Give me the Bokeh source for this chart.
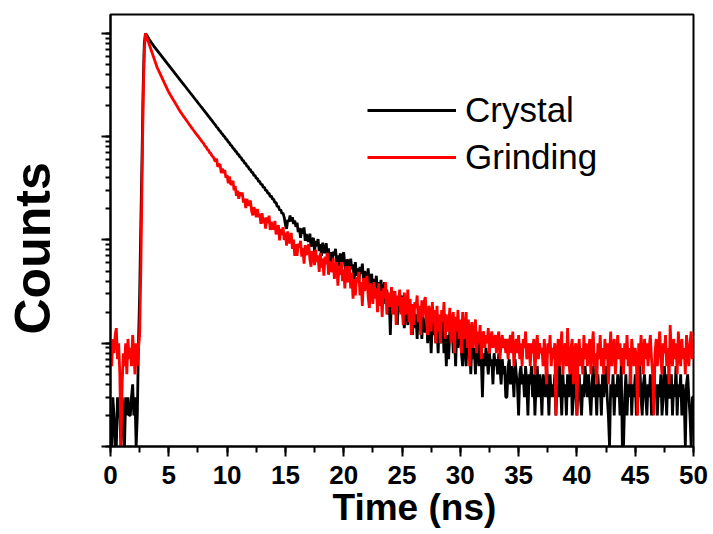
from bokeh.plotting import figure
from bokeh.models import (Range1d, SingleIntervalTicker, LogTicker, CustomJSTickFormatter,
                          Title, Legend, LegendItem, LogAxis)
from bokeh.embed import file_html
from bokeh.resources import INLINE

# ---------------- data ----------------
time_ns = [round(0.1 * i, 1) for i in range(501)]   # 0.0 ... 50.0 ns channel grid

crystal_counts = [
    2, 1, 3, 2, 1, 1, 3, 2, 2, 1,
    3, 2, 1, 3, 2, 3, 2, 2, 3, 4,
    2, 3, 1, 2, 10, 30, 140, 600, 3000, 8000,
    10000, 9594, 9204, 8831, 8492, 8166, 7870, 7586, 7328, 7079,
    6855, 6630, 6412, 6202, 5998, 5801, 5611, 5427, 5249, 5076,
    4910, 4749, 4593, 4442, 4296, 4155, 4019, 3887, 3759, 3636,
    3516, 3401, 3289, 3181, 3077, 2976, 2878, 2784, 2692, 2604,
    2518, 2436, 2356, 2278, 2204, 2131, 2061, 1993, 1928, 1865,
    1803, 1744, 1687, 1632, 1578, 1526, 1476, 1428, 1381, 1336,
    1295, 1240, 1214, 1160, 1138, 1085, 1062, 1016, 996, 950,
    931, 889, 870, 830, 815, 776, 762, 726, 714, 679,
    668, 636, 627, 592, 586, 553, 548, 517, 513, 484,
    480, 452, 450, 422, 420, 396, 393, 369, 368, 345,
    346, 322, 324, 300, 303, 281, 284, 262, 266, 247,
    248, 229, 231, 210, 213, 194, 197, 180, 182, 165,
    141, 128, 156, 150, 172, 151, 166, 143, 154, 134,
    147, 119, 131, 105, 129, 115, 132, 98, 114, 99,
    97, 115, 86, 99, 105, 77, 98, 87, 102, 78,
    91, 70, 94, 75, 77, 93, 68, 83, 59, 76,
    60, 77, 71, 82, 60, 71, 53, 74, 61, 70,
    76, 56, 49, 65, 60, 49, 66, 52, 58, 42,
    61, 45, 53, 39, 55, 47, 59, 39, 50, 41,
    41, 53, 34, 43, 47, 29, 42, 35, 45, 31,
    39, 25, 41, 28, 30, 39, 24, 33, 19, 28,
    12, 29, 26, 32, 19, 26, 15, 28, 20, 26,
    29, 18, 14, 24, 21, 15, 25, 17, 21, 12,
    23, 14, 19, 11, 20, 16, 22, 11, 18, 13,
    13, 19, 10, 15, 17, 8, 16, 12, 18, 10,
    15, 8, 17, 10, 11, 17, 8, 14, 6, 12,
    7, 13, 11, 15, 8, 12, 6, 14, 9, 12,
    15, 8, 6, 12, 10, 6, 12, 8, 10, 5,
    11, 7, 9, 5, 12, 8, 6, 10, 7, 3,
    8, 6, 9, 7, 5, 8, 6, 7, 4, 8,
    6, 7, 5, 8, 6, 4, 7, 5, 6, 3,
    3, 6, 7, 4, 6, 5, 3, 7, 5, 4,
    2, 5, 6, 4, 5, 3, 6, 4, 2, 5,
    4, 6, 3, 5, 2, 4, 6, 3, 5, 4,
    2, 5, 4, 3, 6, 4, 2, 5, 3, 4,
    3, 5, 2, 4, 3, 6, 4, 2, 5, 3,
    4, 2, 5, 3, 4, 6, 2, 3, 5, 4,
    2, 4, 5, 3, 2, 4, 3, 6, 4, 3,
    5, 3, 2, 4, 6, 3, 4, 2, 5, 3,
    4, 2, 5, 3, 4, 6, 3, 2, 1, 4,
    3, 5, 2, 4, 3, 5, 4, 2, 6, 1,
    1, 3, 5, 2, 4, 3, 6, 2, 4, 3,
    5, 2, 4, 3, 6, 3, 2, 4, 5, 3,
    2, 4, 3, 5, 2, 4, 6, 3, 4, 2,
    4, 3, 5, 2, 3, 6, 4, 2, 5, 3,
    3, 5, 2, 4, 3, 6, 2, 4, 3, 5,
    2, 4, 3, 1, 4, 5, 3, 2, 1, 3,
    3,
]

grinding_counts = [
    9, 6, 11, 8, 12, 14, 7, 10, 5, 1,
    4, 8, 6, 10, 5, 11, 7, 9, 6, 12,
    8, 5, 10, 6, 9, 12, 50, 350, 2200, 7000,
    10000, 9268, 8590, 7962, 7379, 6839, 6339, 5875, 5445, 5047,
    4677, 4426, 4188, 3963, 3750, 3548, 3357, 3177, 3006, 2844,
    2692, 2576, 2466, 2360, 2259, 2163, 2070, 1982, 1897, 1816,
    1738, 1675, 1614, 1556, 1500, 1445, 1393, 1343, 1294, 1247,
    1202, 1161, 1122, 1084, 1047, 1012, 977, 944, 912, 881,
    856, 812, 798, 755, 741, 700, 690, 650, 641, 604,
    573, 613, 510, 534, 539, 444, 491, 446, 476, 399,
    423, 354, 411, 347, 345, 376, 303, 332, 267, 299,
    251, 289, 268, 289, 230, 251, 204, 250, 214, 231,
    240, 192, 173, 207, 193, 166, 200, 167, 179, 143,
    182, 145, 164, 129, 165, 145, 172, 125, 150, 129,
    128, 153, 113, 130, 139, 99, 128, 112, 133, 100,
    118, 88, 121, 93, 97, 117, 82, 101, 70, 91,
    70, 92, 84, 98, 69, 84, 59, 89, 71, 83,
    91, 65, 55, 78, 71, 57, 80, 61, 71, 49,
    75, 54, 66, 45, 69, 58, 75, 46, 62, 50,
    50, 67, 42, 54, 61, 36, 56, 46, 61, 40,
    52, 34, 56, 39, 42, 56, 34, 48, 27, 42,
    29, 44, 39, 49, 29, 39, 23, 43, 32, 40,
    45, 28, 22, 38, 33, 24, 39, 27, 34, 20,
    38, 23, 32, 18, 34, 27, 39, 19, 31, 23,
    23, 35, 19, 27, 32, 15, 29, 23, 33, 19,
    28, 15, 31, 19, 22, 33, 16, 27, 12, 24,
    15, 25, 22, 29, 16, 23, 12, 26, 18, 25,
    28, 16, 12, 23, 20, 13, 25, 16, 21, 10,
    23, 13, 19, 10, 21, 16, 25, 11, 19, 13,
    14, 22, 10, 16, 20, 8, 18, 13, 21, 11,
    17, 8, 20, 11, 13, 20, 9, 17, 6, 14,
    16, 9, 12, 17, 8, 13, 10, 15, 7, 12,
    13, 9, 12, 10, 14, 8, 11, 13, 9, 11,
    12, 8, 11, 13, 7, 10, 12, 9, 11, 8,
    11, 7, 10, 12, 8, 13, 6, 9, 11, 8,
    12, 7, 10, 6, 11, 9, 13, 7, 8, 10,
    6, 10, 8, 11, 5, 9, 12, 7, 10, 8,
    9, 6, 11, 7, 4, 10, 8, 12, 6, 9,
    7, 10, 2, 8, 11, 6, 9, 13, 5, 8,
    10, 6, 14, 7, 5, 9, 11, 4, 8, 10,
    2, 8, 11, 6, 9, 5, 12, 7, 10, 6,
    8, 11, 5, 9, 13, 6, 8, 4, 10, 7,
    12, 6, 9, 5, 11, 7, 10, 4, 8, 13,
    6, 9, 11, 5, 8, 12, 7, 10, 6, 9,
    5, 10, 7, 12, 6, 9, 4, 11, 8, 6,
    9, 7, 2, 10, 6, 12, 8, 5, 11, 7,
    10, 6, 9, 12, 7, 5, 2, 8, 11, 6,
    9, 13, 7, 5, 10, 8, 12, 6, 9, 4,
    15, 8, 6, 11, 7, 10, 5, 13, 8, 6,
    11, 7, 9, 5, 12, 8, 6, 10, 13, 7,
    9,
]

series_names = ["Crystal", "Grinding"]
series_colors = ["black", "#ff0000"]
x_label = "Time (ns)"
y_label = "Counts"

FONT = "Liberation Sans"

# ---------------- figure ----------------
p = figure(width=713, height=534, y_axis_type="log",
           x_range=Range1d(0, 50), y_range=Range1d(1, 15240),
           output_backend="svg", toolbar_location=None,
           min_border_left=110, min_border_right=20,
           min_border_top=14, min_border_bottom=88)
p.background_fill_color = "white"
p.border_fill_color = "white"
p.xgrid.visible = False
p.ygrid.visible = False
p.outline_line_color = "black"
p.outline_line_width = 2
p.outline_line_alpha = 1

r1 = p.line(time_ns, crystal_counts, line_color=series_colors[0], line_width=2.8)
r2 = p.line(time_ns, grinding_counts, line_color=series_colors[1], line_width=2.8)

# x axis
xa = p.xaxis[0]
xa.ticker = SingleIntervalTicker(interval=5, num_minor_ticks=2)
xa.axis_line_width = 2
xa.major_tick_line_width = 2
xa.minor_tick_line_width = 2
xa.major_tick_out = 10
xa.major_tick_in = 0
xa.minor_tick_out = 6
xa.minor_tick_in = 0
xa.major_label_text_font = FONT
xa.major_label_text_font_style = "bold"
xa.major_label_text_font_size = "26px"
xa.major_label_text_color = "black"
xa.major_label_standoff = 9

# y axis (log, no tick labels)
ya = p.yaxis[0]
ya.ticker = LogTicker(mantissas=[1], num_minor_ticks=10)
ya.formatter = CustomJSTickFormatter(code="return ''")
ya.axis_line_width = 2
ya.major_tick_line_width = 2
ya.minor_tick_line_width = 2
ya.major_tick_out = 9
ya.major_tick_in = 0
ya.minor_tick_out = 5
ya.minor_tick_in = 0
ya.major_label_standoff = 0

# invisible spacer between the y axis and its title
spacer = LogAxis(ticker=LogTicker(mantissas=[1]),
                 formatter=CustomJSTickFormatter(code="return ''"),
                 axis_line_color=None, major_tick_line_color=None,
                 minor_tick_line_color=None, major_tick_out=41, major_tick_in=0,
                 minor_tick_out=0, minor_tick_in=0, major_label_standoff=0)
p.add_layout(spacer, "left")

# axis titles (as side titles so they can be offset along the axis)
p.add_layout(Title(text=x_label, align="left", offset=222, vertical_align="top",
                   standoff=0, text_font=FONT, text_font_style="bold",
                   text_font_size="37px", text_color="black"), "below")
p.add_layout(Title(text=y_label, align="left", offset=112, vertical_align="bottom",
                   standoff=0, text_font=FONT, text_font_style="bold",
                   text_font_size="50px", text_color="black"), "left")

# legend
legend = Legend(items=[LegendItem(label=series_names[0], renderers=[r1]),
                       LegendItem(label=series_names[1], renderers=[r2])],
                location=(257, 266))
legend.glyph_width = 89
legend.glyph_height = 46
legend.label_height = 46
legend.label_standoff = 9
legend.spacing = 1
legend.padding = 0
legend.margin = 0
legend.border_line_color = None
legend.background_fill_alpha = 0
legend.label_text_font = FONT
legend.label_text_font_size = "35px"
legend.label_text_color = "black"
p.add_layout(legend)

open("out.html", "w").write(file_html(p, INLINE))
